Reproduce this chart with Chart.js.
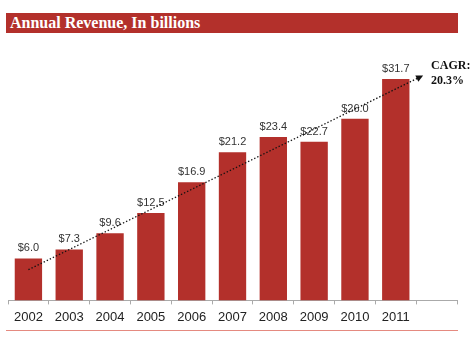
<!DOCTYPE html>
<html>
<head>
<meta charset="utf-8">
<script src="https://cdn.jsdelivr.net/npm/chart.js@4/dist/chart.umd.min.js"></script>
<style>
  html, body { margin: 0; padding: 0; background: #fff; }
  #wrap { position: relative; width: 474px; height: 345px; }
  #title {
    position: absolute; left: 6px; top: 13px; width: 452px; height: 20px;
    background: #b3302b; color: #fff; box-sizing: border-box;
    font: bold 16px "Liberation Serif", "DejaVu Serif", serif;
    line-height: 20px; padding-left: 4px;
  }
  #rule { position: absolute; left: 6px; top: 330px; width: 452px; height: 1px; background: #e58a80; }
  canvas { position: absolute; left: 0; top: 0; }
</style>
</head>
<body>
<div id="wrap">
  <canvas id="revChart" width="474" height="345"></canvas>
  <div id="title">Annual Revenue, In billions</div>
  <div id="rule"></div>
</div>
<script>
// Revenue per year (billions); the last slot is left empty
const years = ['2002', '2003', '2004', '2005', '2006', '2007', '2008', '2009', '2010', '2011', ''];
const revenue = [6.0, 7.3, 9.6, 12.5, 16.9, 21.2, 23.4, 22.7, 26.0, 31.7, null];
const valueLabels = ['$6.0', '$7.3', '$9.6', '$12.5', '$16.9', '$21.2', '$23.4', '$22.7', '$26.0', '$31.7'];

// Growth trend arrow: [category index, value]
const trendStart = [0, 4.4];
const trendEnd = [9.67, 32.2];
const cagrText = ['CAGR:', '20.3%'];

const barRed = '#b3302b';

// value labels above each bar
const valueLabelPlugin = {
  id: 'valueLabels',
  afterDatasetsDraw(chart) {
    const ctx = chart.ctx;
    const meta = chart.getDatasetMeta(0);
    ctx.save();
    ctx.font = '11px "Liberation Sans", Arial, sans-serif';
    ctx.fillStyle = '#333';
    ctx.textAlign = 'center';
    ctx.textBaseline = 'alphabetic';
    meta.data.forEach((bar, i) => {
      if (valueLabels[i] === undefined) return;
      ctx.fillText(valueLabels[i], bar.x, bar.y - 7);
    });
    ctx.restore();
  }
};

// dotted CAGR trend arrow and its caption
const trendPlugin = {
  id: 'trendArrow',
  afterDatasetsDraw(chart) {
    const ctx = chart.ctx;
    const xs = chart.scales.x, ys = chart.scales.y;
    const x1 = xs.getPixelForValue(trendStart[0]), y1 = ys.getPixelForValue(trendStart[1]);
    const x2 = xs.getPixelForValue(trendEnd[0]), y2 = ys.getPixelForValue(trendEnd[1]);
    const ang = Math.atan2(y2 - y1, x2 - x1);
    ctx.save();
    ctx.strokeStyle = '#111';
    ctx.lineWidth = 1.3;
    ctx.setLineDash([1.4, 2]);
    ctx.beginPath();
    ctx.moveTo(x1, y1);
    ctx.lineTo(x2 - 5 * Math.cos(ang), y2 - 5 * Math.sin(ang));
    ctx.stroke();
    ctx.setLineDash([]);
    ctx.fillStyle = '#111';
    ctx.beginPath();
    ctx.moveTo(x2, y2);
    ctx.lineTo(x2 - 7 * Math.cos(ang) + 3.5 * Math.sin(ang), y2 - 7 * Math.sin(ang) - 3.5 * Math.cos(ang));
    ctx.lineTo(x2 - 7 * Math.cos(ang) - 3.5 * Math.sin(ang), y2 - 7 * Math.sin(ang) + 3.5 * Math.cos(ang));
    ctx.closePath();
    ctx.fill();

    ctx.font = 'bold 12px "Liberation Serif", "DejaVu Serif", serif';
    ctx.textAlign = 'left';
    ctx.textBaseline = 'middle';
    ctx.fillText(cagrText[0], x2 + 8, y2 - 10);
    ctx.fillText(cagrText[1], x2 + 8, y2 + 5);
    ctx.restore();
  }
};

new Chart(document.getElementById('revChart'), {
  type: 'bar',
  data: {
    labels: years,
    datasets: [{
      data: revenue,
      backgroundColor: barRed,
      borderWidth: 0,
      barPercentage: 0.67,
      categoryPercentage: 1.0
    }]
  },
  options: {
    responsive: false,
    animation: false,
    layout: { padding: { left: 8, right: 17, top: 21, bottom: 15 } },
    plugins: { legend: { display: false }, tooltip: { enabled: false } },
    scales: {
      x: {
        grid: { drawOnChartArea: false, drawTicks: true, tickLength: 4, color: '#aaa' },
        border: { display: true, color: '#aaa', width: 1 },
        ticks: {
          color: '#222',
          padding: 5,
          maxRotation: 0,
          autoSkip: false,
          font: { family: '"Liberation Sans", Arial, sans-serif', size: 13 }
        }
      },
      y: {
        display: false,
        min: 0,
        max: 40
      }
    }
  },
  plugins: [valueLabelPlugin, trendPlugin]
});
</script>
</body>
</html>
